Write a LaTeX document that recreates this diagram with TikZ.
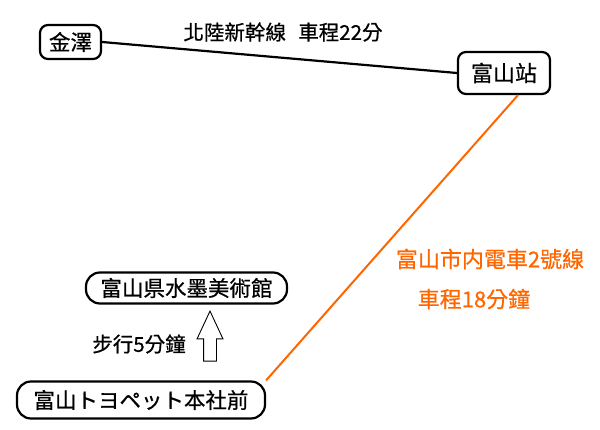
\documentclass[tikz,border=0pt]{standalone}
\usepackage{fontspec}
\setmainfont{Noto Sans CJK TC}[FakeBold=0.6]
\usetikzlibrary{shapes.arrows}
\definecolor{tramorange}{RGB}{255,102,0}
\tikzset{
  stnbox/.style   = {draw=black,line width=2.2pt,rounded corners=8pt,fill=white,
                     inner sep=0pt,font=\fontsize{21.5}{22}\selectfont},
  bigbox/.style   = {stnbox,rounded corners=14pt,font=\fontsize{21.5}{22}\selectfont},
  railline/.style = {line width=2.2pt,color=black},
  tramline/.style = {line width=2pt,color=tramorange},
  lbl/.style      = {font=\fontsize{20.5}{21}\selectfont},
  tramlbl/.style  = {font=\fontsize{22}{22}\selectfont,color=tramorange},
  walkarrow/.style= {shape=single arrow,draw=black,line width=0.9pt,fill=white,
                     shape border rotate=90,minimum height=50pt,minimum width=25pt,
                     single arrow head extend=6.5pt,single arrow tip angle=50,inner sep=6pt},
}

\begin{document}
\begin{tikzpicture}[x=1pt,y=-1pt]
  \useasboundingbox (0,0) rectangle (600,430);
  % stations
  \node[stnbox,minimum width=61pt,minimum height=34pt] (kanazawa) at (70.5,42) {金澤};
  \node[stnbox,minimum width=92pt,minimum height=42pt,
        font=\fontsize{22}{22}\selectfont] (toyama) at (504,73) {富山站};
  \node[bigbox,minimum width=201pt,minimum height=31pt] (museum) at (186.5,288) {富山県水墨美術館};
  \node[bigbox,minimum width=248pt,minimum height=37pt] (toyopet) at (141,400) {富山トヨペット本社前};
  % lines
  \draw[railline] (kanazawa.east) -- (toyama.west);
  \node[lbl] (shinkansen) at (283,32) {北陸新幹線\hspace{0.6em}車程22分};
  \draw[tramline] (toyopet.north east) -- ([xshift=14pt]toyama.south);
  \node[tramlbl] (tram) at (490,259) {富山市内電車2號線};
  \node[tramlbl] (tramtime) at (474,299) {車程18分鐘};
  % walk
  \node[walkarrow] (walk) at (210,343) {};
  \node[lbl] (walktime) at (139,344) {步行5分鐘};
\end{tikzpicture}
\end{document}
